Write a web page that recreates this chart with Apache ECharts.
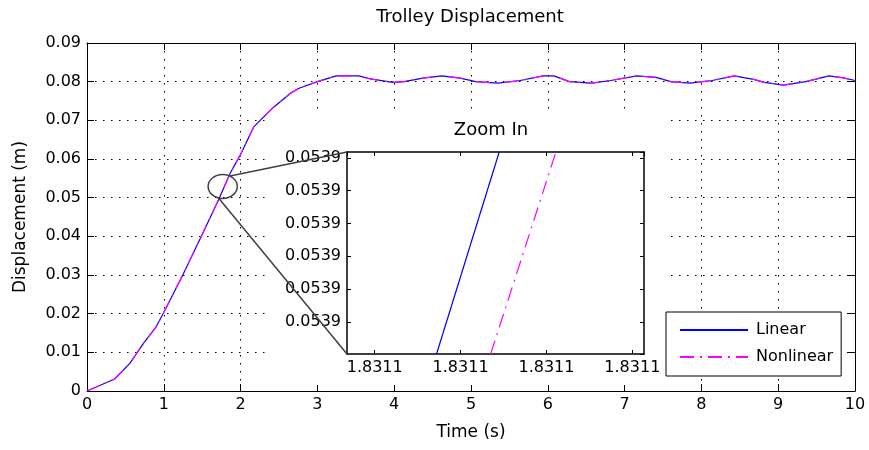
<!DOCTYPE html>
<html>
<head>
<meta charset="utf-8">
<script src="https://cdn.jsdelivr.net/npm/echarts@6/dist/echarts.min.js"></script>
<style>
    html, body { margin: 0; padding: 0; background: #fff; }
    #chart { width: 869px; height: 450px; }
</style>
</head>
<body>
<div id="chart"></div>
<script>
// 主图数据：时间 (s) 与小车位移 (m)
const timeSec = [0, 0.36, 0.56, 0.735, 0.9, 1.0, 1.247, 1.495, 1.712, 1.864, 1.995, 2.17, 2.43, 2.65, 2.76,
    3.0, 3.245, 3.54, 3.69, 3.98, 4.13, 4.37, 4.62, 4.86, 5.06, 5.35, 5.64, 5.94, 6.08, 6.28, 6.57, 6.82,
    7.16, 7.41, 7.6, 7.85, 8.14, 8.43, 8.68, 8.82, 9.07, 9.36, 9.66, 9.85, 10]
const linearDisp = [0, 0.0031, 0.0072, 0.0123, 0.0166, 0.0203, 0.030, 0.0403, 0.0494, 0.0563, 0.061, 0.0683, 0.0734, 0.077, 0.0783,
    0.080, 0.0815, 0.0815, 0.0807, 0.0798, 0.080, 0.0809, 0.0815, 0.0809, 0.080, 0.0796, 0.0803, 0.0815, 0.0815, 0.080, 0.0796, 0.0803,
    0.0815, 0.0811, 0.080, 0.0796, 0.0803, 0.0815, 0.0806, 0.0798, 0.0791, 0.080, 0.0815, 0.081, 0.0803]
const nonlinearDisp = [0, 0.0031, 0.0072, 0.0123, 0.0166, 0.0203, 0.030, 0.0403, 0.0494, 0.0563, 0.061, 0.0683, 0.0734, 0.077, 0.0783,
    0.080, 0.0815, 0.0815, 0.0807, 0.0798, 0.080, 0.0809, 0.0815, 0.0809, 0.080, 0.0796, 0.0803, 0.0815, 0.0815, 0.080, 0.0796, 0.0803,
    0.0815, 0.0811, 0.080, 0.0796, 0.0803, 0.0815, 0.0806, 0.0798, 0.0791, 0.080, 0.0815, 0.081, 0.0803]

// 放大图数据
const zoomTimeLinear = [1.8310872, 1.8310945]
const zoomDispLinear = [0.05389902, 0.05390518]
const zoomTimeNonlinear = [1.8310935, 1.8311011]
const zoomDispNonlinear = [0.05389902, 0.05390518]

// 放大图刻度值（标签均显示为 1.8311 / 0.0539）
const zoomTimeTicks = [1.83108, 1.83109, 1.8311, 1.83111]
const zoomDispTicks = [0.0539, 0.053901, 0.053902, 0.053903, 0.053904, 0.053905]

// 坐标轴范围
const mainX = { min: 0, max: 10, interval: 1 }
const mainY = { min: 0, max: 0.09, interval: 0.01 }
const zoomX = { min: 1.83107677, max: 1.83111136, step: 0.00001 }
const zoomY = { min: 0.05389902, max: 0.05390518, step: 0.000001 }

// 放大镜圆圈位置（数据坐标）
const lensCenter = [1.767, 0.0529]
const lensRadius = [0.19, 0.0031]

const FONT = 'DejaVu Sans'
const MAIN_GRID = { left: 87, top: 43, width: 768, height: 348 }
const ZOOM_GRID = { left: 347, top: 152, width: 297, height: 202 }
// 放大图外围（含刻度文字）的留白范围
const ZOOM_PAD = { left: 79, right: 22, top: 40, bottom: 31 }

const zip = (xs, ys) => xs.map((x, i) => [x, ys[i]])

const dotLine = () => ({ color: '#000', width: 1, type: [1.5, 6.5] })
const dotted = () => ({ show: true, lineStyle: dotLine() })

/**
 * @description 生成坐标轴配置（MATLAB 风格：刻度朝内，四边封框）
 */
const makeAxis = (config) => {
    const { gridIndex, position, range, labels = false, tickLen = 7, lineWidth = 1, split = false, formatter, z = 0, fixedStep } = config
    let axis = {
        type: 'value',
        gridIndex,
        position,
        min: range.min,
        max: range.max,
        z,
        axisLine: { show: true, onZero: false, lineStyle: { color: '#000', width: lineWidth } },
        axisTick: { show: true, inside: true, length: tickLen, lineStyle: { color: '#000', width: 1 } },
        axisLabel: {
            show: labels,
            color: '#000',
            fontFamily: FONT,
            fontSize: 16,
            margin: 6,
            formatter,
        },
        splitLine: split ? dotted() : { show: false },
    }
    if (fixedStep) {
        axis.minInterval = fixedStep
        axis.maxInterval = fixedStep
        axis.axisLabel.showMinLabel = false
        axis.axisLabel.showMaxLabel = false
    } else {
        axis.interval = range.interval
    }
    return axis
}

const xAxisList = [
    Object.assign(makeAxis({ gridIndex: 0, position: 'bottom', range: mainX, labels: true, split: true }), {
        name: 'Time (s)',
        nameLocation: 'middle',
        nameGap: 33,
        nameTextStyle: { color: '#000', fontFamily: FONT, fontSize: 17 },
    }),
    makeAxis({ gridIndex: 0, position: 'top', range: mainX }),
    makeAxis({
        gridIndex: 1, position: 'bottom', range: zoomX, labels: true, tickLen: 4, lineWidth: 1.5,
        z: 10, fixedStep: zoomX.step, formatter: (v) => v.toFixed(4),
    }),
    makeAxis({ gridIndex: 1, position: 'top', range: zoomX, tickLen: 4, lineWidth: 1.5, z: 10, fixedStep: zoomX.step }),
]

const yAxisList = [
    Object.assign(makeAxis({
        gridIndex: 0, position: 'left', range: mainY, labels: true, split: true,
        formatter: (v) => (v === 0 ? '0' : v.toFixed(2)),
    }), {
        name: 'Displacement (m)',
        nameLocation: 'middle',
        nameGap: 58,
        nameTextStyle: { color: '#000', fontFamily: FONT, fontSize: 17 },
    }),
    makeAxis({ gridIndex: 0, position: 'right', range: mainY }),
    makeAxis({
        gridIndex: 1, position: 'left', range: zoomY, labels: true, tickLen: 4, lineWidth: 1.5,
        z: 10, fixedStep: zoomY.step, formatter: (v) => v.toFixed(4),
    }),
    makeAxis({ gridIndex: 1, position: 'right', range: zoomY, tickLen: 4, lineWidth: 1.5, z: 10, fixedStep: zoomY.step }),
]

const linearStyle = { color: '#0000ff', width: 1.2 }
const nonlinearStyle = { color: '#ff00ff', width: 1.2, type: [14, 6, 2, 6] }

const lineSeries = (name, data, axisIndex, style, z) => ({
    name,
    type: 'line',
    xAxisIndex: axisIndex,
    yAxisIndex: axisIndex,
    data,
    symbol: 'none',
    showSymbol: false,
    clip: true,
    z,
    itemStyle: { color: style.color },
    lineStyle: style,
})

// 放大图的点状网格线，按刻度值画在放大图坐标系里
const zoomGridLines = {
    silent: true,
    symbol: 'none',
    label: { show: false },
    emphasis: { disabled: true },
    lineStyle: dotLine(),
    data: zoomTimeTicks.map((v) => ({ xAxis: v })).concat(zoomDispTicks.map((v) => ({ yAxis: v }))),
}

const zoomLinear = lineSeries('Linear', zip(zoomTimeLinear, zoomDispLinear), 2, linearStyle, 11)
zoomLinear.markLine = zoomGridLines

const chart = echarts.init(document.getElementById('chart'))

const option = {
    animation: false,
    backgroundColor: '#fff',
    title: [
        {
            text: 'Trolley Displacement',
            left: 470,
            top: 8,
            textAlign: 'center',
            padding: 0,
            z: 20,
            textStyle: { color: '#000', fontFamily: FONT, fontSize: 18, fontWeight: 'normal' },
        },
        {
            text: 'Zoom In',
            left: 491,
            top: 121,
            textAlign: 'center',
            padding: 0,
            z: 20,
            textStyle: { color: '#000', fontFamily: FONT, fontSize: 18, fontWeight: 'normal' },
        },
    ],
    grid: [
        Object.assign({ containLabel: false, z: 0 }, MAIN_GRID),
        // 放大图自身用白色底，遮住主图网格
        Object.assign({
            containLabel: false, z: 10, show: true, backgroundColor: '#fff', borderWidth: 0, borderColor: 'transparent',
        }, ZOOM_GRID),
    ],
    legend: {
        data: ['Linear', 'Nonlinear'],
        orient: 'vertical',
        left: 666,
        top: 312,
        itemWidth: 68,
        itemHeight: 14,
        itemGap: 11,
        padding: [10, 8, 11, 13],
        backgroundColor: '#fff',
        borderColor: '#000',
        borderWidth: 1,
        borderRadius: 0,
        z: 20,
        selectedMode: false,
        itemStyle: { opacity: 0 },
        textStyle: { color: '#000', fontFamily: FONT, fontSize: 16, padding: [0, 0, 0, 3] },
    },
    xAxis: xAxisList,
    yAxis: yAxisList,
    series: [
        lineSeries('Linear', zip(timeSec, linearDisp), 0, linearStyle, 2),
        lineSeries('Nonlinear', zip(timeSec, nonlinearDisp), 0, nonlinearStyle, 3),
        zoomLinear,
        lineSeries('Nonlinear', zip(zoomTimeNonlinear, zoomDispNonlinear), 2, nonlinearStyle, 12),
    ],
}

chart.setOption(option)

/**
 * @description 放大图四周的白色留白条（不覆盖放大图内部）
 */
const coverStrips = () => {
    const x0 = ZOOM_GRID.left - ZOOM_PAD.left
    const x1 = ZOOM_GRID.left + ZOOM_GRID.width + ZOOM_PAD.right
    const y0 = ZOOM_GRID.top - ZOOM_PAD.top
    const y1 = ZOOM_GRID.top + ZOOM_GRID.height + ZOOM_PAD.bottom
    const gx0 = ZOOM_GRID.left
    const gx1 = ZOOM_GRID.left + ZOOM_GRID.width
    const gy0 = ZOOM_GRID.top
    const gy1 = ZOOM_GRID.top + ZOOM_GRID.height
    const boxes = [
        [x0, y0, x1 - x0, gy0 - y0],
        [x0, gy1, x1 - x0, y1 - gy1],
        [x0, gy0, gx0 - x0, gy1 - gy0],
        [gx1, gy0, x1 - gx1, gy1 - gy0],
    ]
    return boxes.map(([x, y, width, height]) => ({
        type: 'rect',
        z: 1,
        silent: true,
        shape: { x, y, width, height },
        style: { fill: '#fff' },
    }))
}

// 放大镜圆圈与连接线
const renderLens = () => {
    const c = chart.convertToPixel({ gridIndex: 0 }, lensCenter)
    const edge = chart.convertToPixel({ gridIndex: 0 }, [lensCenter[0] + lensRadius[0], lensCenter[1] + lensRadius[1]])
    const rx = edge[0] - c[0]
    const ry = c[1] - edge[1]
    const topLeft = chart.convertToPixel({ gridIndex: 1 }, [zoomX.min, zoomY.max])
    const bottomLeft = chart.convertToPixel({ gridIndex: 1 }, [zoomX.min, zoomY.min])
    const lineStyle = { stroke: '#404040', lineWidth: 1.5 }

    chart.setOption({
        graphic: coverStrips().concat([
            {
                type: 'ellipse',
                z: 15,
                silent: true,
                shape: { cx: c[0], cy: c[1], rx, ry },
                style: { fill: 'none', stroke: '#404040', lineWidth: 1.5 },
            },
            {
                type: 'line',
                z: 15,
                silent: true,
                shape: { x1: c[0] + rx * 0.5, y1: c[1] - ry * 0.87, x2: topLeft[0], y2: topLeft[1] },
                style: lineStyle,
            },
            {
                type: 'line',
                z: 15,
                silent: true,
                shape: { x1: c[0] - rx * 0.3, y1: c[1] + ry * 0.95, x2: bottomLeft[0], y2: bottomLeft[1] },
                style: lineStyle,
            },
        ]),
    })
}

renderLens()
</script>
</body>
</html>
